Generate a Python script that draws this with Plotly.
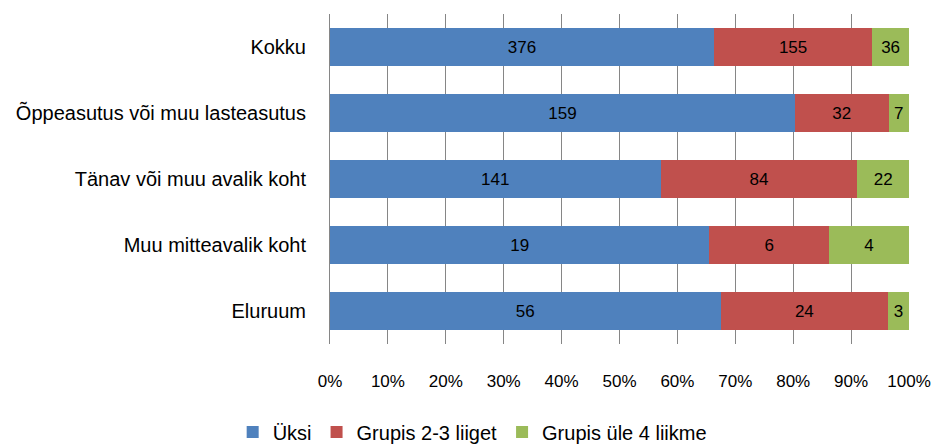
import plotly.graph_objects as go

categories = ["Kokku", "Õppeasutus või muu lasteasutus", "Tänav või muu avalik koht",
              "Muu mitteavalik koht", "Eluruum"]
series_names = ["Üksi", "Grupis 2-3 liiget", "Grupis üle 4 liikme"]
uksi = [376, 159, 141, 19, 56]
grupis23 = [155, 32, 84, 6, 24]
grupis4 = [36, 7, 22, 4, 3]
colors = ["#4F81BD", "#C0504D", "#9BBB59"]
tick_vals = [0, 10, 20, 30, 40, 50, 60, 70, 80, 90, 100]
tick_text = [f"{v}%" for v in tick_vals]

FONT = "Liberation Sans, Arial, sans-serif"

fig = go.Figure()
for name, vals, col in zip(series_names, [uksi, grupis23, grupis4], colors):
    fig.add_trace(go.Bar(
        y=categories, x=vals, name=name, orientation="h",
        marker=dict(color=col, line=dict(width=0)),
        text=[str(v) for v in vals], textposition="inside",
        insidetextanchor="middle", textangle=0,
        textfont=dict(color="black", size=17, family=FONT),
        constraintext="none",
    ))

fig.update_layout(
    barmode="stack", barnorm="percent", bargap=0.41,
    width=935, height=444, autosize=False,
    margin=dict(l=330, r=26, t=14, b=100, autoexpand=False),
    paper_bgcolor="white", plot_bgcolor="white",
    font=dict(family=FONT, size=18, color="black"),
    legend=dict(orientation="h", xref="container", x=0.505, xanchor="center",
                yref="container", y=0.027, yanchor="middle",
                font=dict(size=20), traceorder="normal", itemwidth=30,
                tracegroupgap=0),
    xaxis=dict(range=[0, 100], tickvals=tick_vals, ticktext=tick_text,
               showgrid=True, gridcolor="#868686", gridwidth=1, zeroline=False,
               ticks="", ticklabelstandoff=25, showline=False, fixedrange=True,
               automargin=False, tickfont=dict(size=17)),
    yaxis=dict(autorange="reversed", showline=True, linecolor="#868686", linewidth=1,
               ticks="", ticklabelstandoff=19, showgrid=False, automargin=False,
               tickfont=dict(size=20)),
)
fig.write_html("out.html", config={"displayModeBar": False},
               post_script="document.body.style.margin='0';document.body.style.padding='0';")
